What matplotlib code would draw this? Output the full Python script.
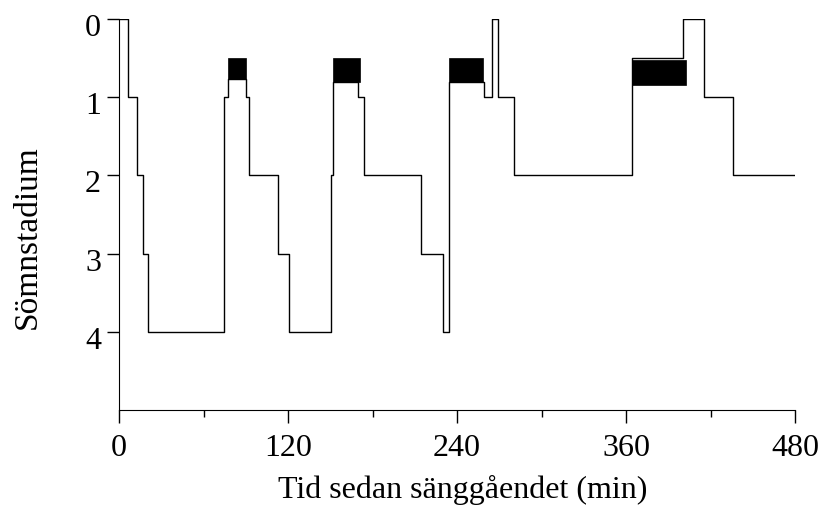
import numpy as np
import matplotlib
matplotlib.use('Agg')
import matplotlib.pyplot as plt
import matplotlib.transforms as mtransforms

# hypnogram: stage start times (min) and stage values (REM drawn at ~0.8)
times = [0, 6.6, 12.5, 17.3, 20.8, 74.6, 77.6, 90.2, 92.1, 112.7, 120.5,
         150.6, 152.2, 169.8, 174.2, 214.3, 229.9, 234.6, 259.0, 265.0,
         269.4, 280.8, 364.6, 400.8, 415.3, 435.9, 480]
stages = [0, 1, 2, 3, 4, 1, 0.77, 1, 2, 3, 4,
          2, 0.8, 1, 2, 3, 4, 0.8, 1, 0,
          1, 2, 0.5, 0, 1, 2, 2]

# REM-perioder (svarta block)
rem_start = [77.6, 152.2, 234.6, 364.6]
rem_end = [90.2, 171.2, 258.5, 402.7]
rem_top = [0.5, 0.5, 0.5, 0.53]
rem_bottom = [0.77, 0.8, 0.8, 0.85]

xticks = [0, 120, 240, 360, 480]
yticks = [0, 1, 2, 3, 4]

plt.rcParams['font.family'] = ['Liberation Serif', 'DejaVu Serif']

fig = plt.figure(figsize=(8.22, 5.08), dpi=100)
ax = fig.add_axes([119/822, 1-410/508, 676/822, 391/508])

ax.step(times, stages, where='post', color='black', lw=1.0)
ax.bar(rem_start, np.array(rem_bottom)-np.array(rem_top),
       width=np.array(rem_end)-np.array(rem_start), bottom=rem_top,
       align='edge', color='black', edgecolor='black', lw=0.5)

ax.set_xlim(0, 480)
ax.set_ylim(5, 0)
ax.set_xticks(xticks)
ax.set_xticks([60, 180, 300, 420], minor=True)
ax.set_yticks(yticks)
ax.tick_params(axis='both', which='major', length=9, width=1, labelsize=23, direction='out')
ax.tick_params(axis='x', which='major', pad=8)
ax.tick_params(axis='y', which='major', pad=4)
ax.tick_params(axis='x', which='minor', length=5, width=1)
ax.spines['top'].set_visible(False)
ax.spines['right'].set_visible(False)

# y-etiketterna sitter lite under strecken i originalet
off = mtransforms.ScaledTranslation(0, -6/100, fig.dpi_scale_trans)
for lab in ax.get_yticklabels():
    lab.set_transform(lab.get_transform() + off)

ax.set_xlabel('Tid sedan sänggåendet (min)', fontsize=23)
ax.xaxis.set_label_coords(0.509, -0.166)
ax.set_ylabel('Sömnstadium', fontsize=24)
ax.yaxis.set_label_coords(-0.113, 0.441)

fig.savefig('out.png', dpi=100)
